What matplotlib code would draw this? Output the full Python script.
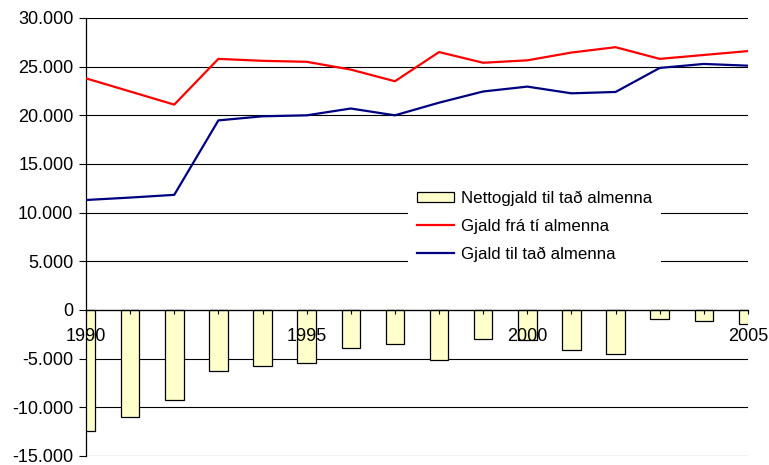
import matplotlib
matplotlib.use("Agg")
import matplotlib.pyplot as plt

# values
years = list(range(1990, 2006))
gjald_fra = [23800, 22450, 21100, 25800, 25600, 25500, 24700, 23500,
             26500, 25400, 25650, 26450, 27000, 25800, 26200, 26600]
gjald_til = [11300, 11550, 11830, 19480, 19900, 20000, 20700, 20000,
             21300, 22450, 22950, 22260, 22400, 24870, 25280, 25100]
netto = [-12450, -11000, -9260, -6270, -5800, -5480, -3900, -3460,
         -5100, -2940, -3100, -4150, -4560, -930, -1090, -1440]
y_ticks = [-15000, -10000, -5000, 0, 5000, 10000, 15000, 20000, 25000, 30000]
y_labels = ["-15.000", "-10.000", "-5.000", "0", "5.000", "10.000",
            "15.000", "20.000", "25.000", "30.000"]
x_labels = [str(y) if y % 5 == 0 else "" for y in years]

plt.rcParams['font.family'] = ['Liberation Sans', 'DejaVu Sans']

fig = plt.figure(figsize=(7.69, 4.65), dpi=100)
ax = fig.add_axes([0.1118, 0.0194, 0.8609, 0.9419])
ax.set_axisbelow(False)

ax.spines['top'].set_visible(False)
ax.spines['right'].set_visible(False)
ax.spines['bottom'].set_position(('data', 0))
ax.spines['bottom'].set_linewidth(0.9)
ax.spines['left'].set_linewidth(0.9)

# gridlines
for t in y_ticks:
    ax.axhline(t, color='black', lw=0.8, zorder=0)

b = ax.bar(years, netto, width=0.42, color='#FFFFCC', edgecolor='black',
           linewidth=0.9, zorder=2)
l1, = ax.plot(years, gjald_fra, color='#FF0000', lw=1.6, zorder=3)
l2, = ax.plot(years, gjald_til, color='#000080', lw=1.6, zorder=3)

ax.set_xlim(1990, 2005)
ax.set_ylim(-15000, 30000)
ax.set_yticks(y_ticks)
ax.set_yticklabels(y_labels)
ax.set_xticks(years)
ax.set_xticklabels(x_labels)
ax.tick_params(axis='y', length=5, width=0.8, pad=4, labelsize=13)
ax.tick_params(axis='x', length=3, width=0.8, pad=10, direction='out',
               labelsize=13)

leg = ax.legend([b, l1, l2],
                ['Nettogjald til tað almenna', 'Gjald frá tí almenna',
                 'Gjald til tað almenna'],
                loc='upper left', bbox_to_anchor=(0.487, 0.625), fontsize=12.2,
                frameon=True, fancybox=False, edgecolor='none',
                facecolor='white', framealpha=1, handlelength=2.2,
                handleheight=0.6, handletextpad=0.4, labelspacing=0.75,
                borderpad=0.5, borderaxespad=0)
leg.set_zorder(5)

fig.savefig("out.png", dpi=100)
